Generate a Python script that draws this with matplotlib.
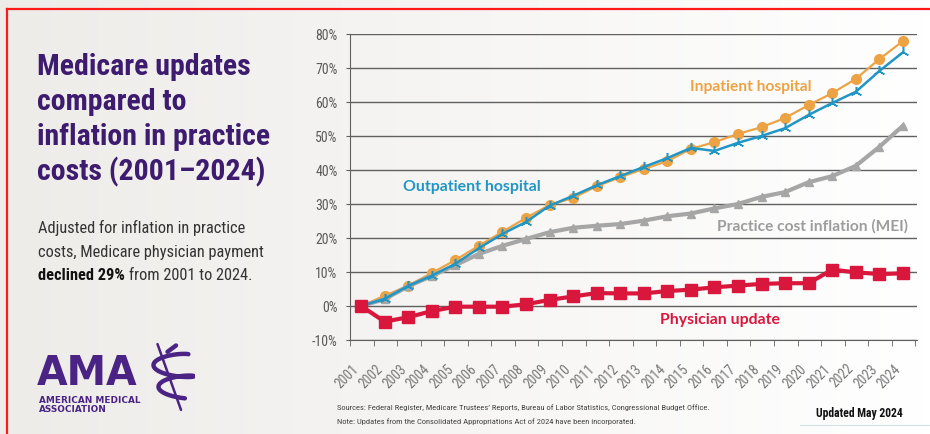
import matplotlib
matplotlib.use("Agg")
import matplotlib.pyplot as plt
import matplotlib.transforms as mtransforms
from matplotlib import font_manager
import numpy as np

# Data (percent change since 2001)
years = list(range(2001, 2025))
inpatient = [0, 3.0, 6.0, 9.7, 13.5, 17.7, 21.8, 25.9, 29.7, 31.8, 35.2, 37.9, 40.3,
             42.6, 46.2, 48.2, 50.6, 52.6, 55.3, 59.1, 62.6, 66.8, 72.6, 77.9]
outpatient = [0, 2.1, 5.9, 8.9, 12.4, 17.0, 21.2, 24.7, 29.5, 32.4, 35.5, 38.2, 40.9,
              43.5, 46.5, 45.6, 48.0, 50.0, 52.3, 56.2, 59.7, 63.0, 69.1, 74.6]
mei = [0, 2.0, 5.8, 8.8, 12.0, 15.3, 17.7, 19.7, 21.7, 23.0, 23.6, 24.1, 25.1,
       26.4, 27.2, 28.7, 30.0, 32.1, 33.5, 36.4, 38.2, 41.2, 46.8, 53.0]
physician = [0, -4.6, -3.3, -1.5, -0.2, -0.2, -0.2, 0.5, 1.8, 2.8, 3.8, 3.7, 3.7,
             4.4, 4.8, 5.5, 6.0, 6.5, 6.7, 6.7, 10.7, 9.9, 9.4, 9.6]
y_ticks = [-10, 0, 10, 20, 30, 40, 50, 60, 70, 80]

title_lines = ["Medicare updates", "compared to", "inflation in practice", "costs (2001\u20132024)"]

PURPLE = "#3d1b6e"
LOGO = "#4a2384"
ORANGE = "#eda344"
BLUE = "#2196c4"
GRAY = "#a6a6a6"
RED = "#d9173c"

W, H = 930, 435


def pick_font(*names):
    installed = {f.name for f in font_manager.fontManager.ttflist}
    for n in names:
        if n in installed:
            return n
    return "DejaVu Sans"


def fx(px):
    return px / W


def fy(py):
    return 1 - py / H


narrow = pick_font("Liberation Sans Narrow", "Roboto Condensed", "Liberation Sans")
label_font = pick_font("Lato", "Noto Sans")

fig = plt.figure(figsize=(9.3, 4.35), dpi=100)

# background gradient
bg = fig.add_axes([0, 0, 1, 1], zorder=-10)
grad = np.linspace(0, 1, 256).reshape(1, -1)
bg.imshow(grad, aspect="auto", cmap=matplotlib.colors.LinearSegmentedColormap.from_list(
    "bg", ["#eeece9", "#ffffff"]), extent=[0, 1, 0, 1])
bg.set_xlim(0, 1)
bg.set_ylim(0, 1)
bg.axis("off")

# red frame (top and left)
fig.add_artist(plt.Line2D([fx(7), 1], [fy(10), fy(10)], color="#ff1a1a", lw=1.6))
fig.add_artist(plt.Line2D([fx(7), fx(7)], [0, fy(10)], color="#ff1a1a", lw=1.6))

ax = fig.add_axes([fx(350), fy(341), 567 / W, 306 / H])
ax.patch.set_alpha(0)
x = np.arange(len(years))

ax.plot(x, inpatient, color=ORANGE, lw=1.6, marker="o", ms=7, zorder=3)
ax.plot(x, outpatient, color=BLUE, lw=1.8, marker=(3, 2, 0), ms=8, mew=1.1, zorder=4)
ax.plot(x, mei, color=GRAY, lw=3, marker="^", ms=6, zorder=3)
ax.plot(x, physician, color=RED, lw=3, marker="s", ms=8, zorder=5)

ax.set_ylim(-10, 80)
ax.set_xlim(-0.47, len(years) - 0.4)
ax.set_yticks(y_ticks)
ax.set_yticklabels([f"{v}%" for v in y_ticks], fontsize=10, color="#5a5a5a", family=narrow)
ax.grid(axis="y", color="#606060", lw=1)
ax.set_axisbelow(True)
for s in ["top", "right"]:
    ax.spines[s].set_visible(False)
ax.spines["left"].set_color("#606060")
ax.spines["bottom"].set_color("#606060")
ax.tick_params(axis="y", length=3, color="#606060", pad=6)

# tick marks at category boundaries, labels rotated
ax.set_xticks(np.arange(len(years) + 1) - 0.47, minor=True)
ax.tick_params(axis="x", which="minor", length=4, color="#606060")
ax.set_xticks(x)
ax.tick_params(axis="x", which="major", length=0, pad=15)
offset = mtransforms.ScaledTranslation(-9 / 100, 0, fig.dpi_scale_trans)
labels = ax.set_xticklabels([str(y) for y in years], rotation=45, ha="right", va="top",
                            rotation_mode="anchor", fontsize=9.8, color="#777777", family=narrow)
for lab in labels:
    lab.set_transform(lab.get_transform() + offset)

# series labels
series_labels = [
    ("Inpatient hospital", 751, 87, ORANGE, 11.2),
    ("Outpatient hospital", 472, 187, BLUE, 11.4),
    ("Practice cost inflation (MEI)", 812, 226, "#9d9d9d", 11.2),
    ("Physician update", 720, 320, RED, 11.4),
]
for txt, px, py, col, fs in series_labels:
    fig.text(fx(px), fy(py), txt, fontsize=fs, color=col, weight="bold",
             family=label_font, ha="center", va="center")

# left panel title
for line, base in zip(title_lines, [75, 110, 145, 180]):
    fig.text(fx(37), fy(base), line, fontsize=21.5, color=PURPLE, weight="bold",
             family=narrow, ha="left", va="baseline")

fig.text(fx(38), fy(233), "Adjusted for inflation in practice", fontsize=11.8,
         color="#333333", family=narrow, ha="left", va="baseline")
fig.text(fx(38), fy(257), "costs, Medicare physician payment", fontsize=11.8,
         color="#333333", family=narrow, ha="left", va="baseline")
t1 = fig.text(fx(38), fy(280), "declined 29%", fontsize=11.8, color="#111111",
              weight="bold", family=narrow, ha="left", va="baseline")
fig.canvas.draw()
bb = t1.get_window_extent()
fig.text(fx(bb.x1 + 4), fy(280), "from 2001 to 2024.", fontsize=11.8,
         color="#333333", family=narrow, ha="left", va="baseline")

# AMA logo
fig.text(fx(37), fy(385), "AMA", fontsize=28.5, color=LOGO, weight="bold",
         family="DejaVu Sans", ha="left", va="baseline")
fig.text(fx(39), fy(403), "AMERICAN MEDICAL", fontsize=6.4, color=LOGO, weight="bold",
         family="DejaVu Sans", ha="left", va="baseline")
fig.text(fx(39), fy(412), "ASSOCIATION", fontsize=6.4, color=LOGO, weight="bold",
         family="DejaVu Sans", ha="left", va="baseline")
logo = fig.add_axes([fx(145), fy(413), 50 / W, 70 / H])
logo.axis("off")
logo.set_xlim(0, 1)
logo.set_ylim(0, 1)
logo.plot([0.25, 0.72], [0.97, 0.03], color=LOGO, lw=1.8, solid_capstyle="round")
tt = np.linspace(0.3, 3.6 * np.pi, 300)
cy = 0.82 - tt / (4 * np.pi) * 0.62 + 0.07 * np.sin(tt)
cx = 0.5 + tt / (4 * np.pi) * 0.2 + 0.38 * np.cos(tt)
logo.plot(cx, cy, color=LOGO, lw=3.2, solid_capstyle="round")
logo.plot([0.45, 0.62], [0.86, 0.95], color=LOGO, lw=3.2, solid_capstyle="round")

# footer
fig.text(fx(337), fy(408),
         "Sources: Federal Register, Medicare Trustees\u2019 Reports, Bureau of Labor Statistics, Congressional Budget Office.",
         fontsize=6.1, color="#444444", family=narrow, ha="left", va="center")
fig.text(fx(337), fy(422),
         "Note: Updates from the Consolidated Appropriations Act of 2024 have been incorporated.",
         fontsize=6.1, color="#444444", family=narrow, ha="left", va="center")
fig.text(fx(816), fy(414), "Updated May 2024", fontsize=8.4, color="#111111",
         weight="bold", family=narrow, ha="left", va="center")
fig.add_artist(plt.Line2D([fx(800), 1], [fy(426), fy(426)], color="#cfe3e3", lw=0.8))

fig.savefig("out.png", dpi=100)
